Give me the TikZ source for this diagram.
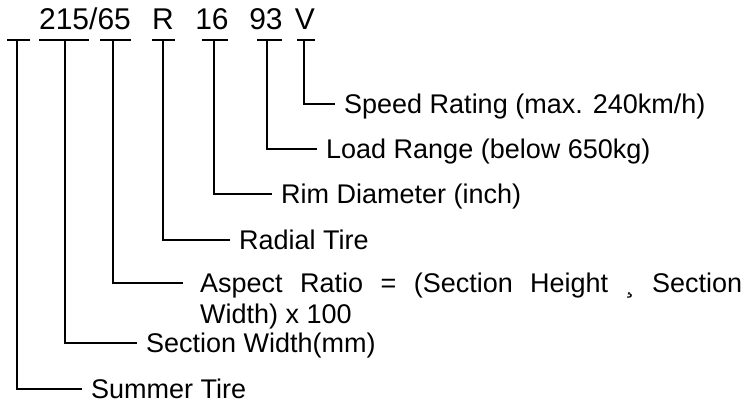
\documentclass[tikz,border=0pt]{standalone}
\usepackage{fontspec}
\setmainfont{Liberation Sans}

\begin{document}
\begin{tikzpicture}[x=1pt, y=-1pt,
        code/.style={font=\fontsize{30}{36}\selectfont, inner sep=0pt, anchor=base},
        desc/.style={font=\fontsize{27}{31}\selectfont, anchor=west, inner xsep=9pt, inner ysep=0pt, text height=19.4pt, text depth=0pt},
        lead/.style={line width=2.5pt}
    ]
        \useasboundingbox (0,0) rectangle (744,406);
        % Tyre size code
        \node[code] (size) at (85,30) {215/65};
        \node[code] (radial) at (163,30) {R};
        \node[code] (rimd) at (212,30) {16};
        \node[code] (loadidx) at (266,30) {93};
        \node[code] (speedsym) at (305,30) {V};
        % Underline bars and the tops of their stems
        \foreach \i/\xa/\xb/\xs in {1/7/30/17, 2/39/89/65, 3/100/131/113, 4/152/175/163, 5/202/228/214, 6/257/282/267, 7/297/315/304} {
            \draw[lead] (\xa,40) -- (\xb,40);
            \coordinate (b\i) at (\xs,40);
        }
        % Descriptions
        \node[desc] (l7) at (335,104) {Speed Rating (max. 240km/h)};
        \node[desc] (l6) at (317,149) {Load Range (below 650kg)};
        \node[desc] (l5) at (272,194) {Rim Diameter (inch)};
        \node[desc] (l4) at (230,240) {Radial Tire};
        \node[desc, text width=542pt, align=justify, inner xsep=17pt] (l3) at (183,283)
            {\tolerance=10000\relax Aspect Ratio = (Section Height ¸ Section\linebreak Width) x 100};
        \node[desc] (l2) at (137,343) {Section Width(mm)};
        \node[desc] (l1) at (82,389) {Summer Tire};
        % Leader lines
        \foreach \i in {1,...,7} {
            \draw[lead] (b\i) |- (l\i.west);
        }
\end{tikzpicture}
\end{document}
